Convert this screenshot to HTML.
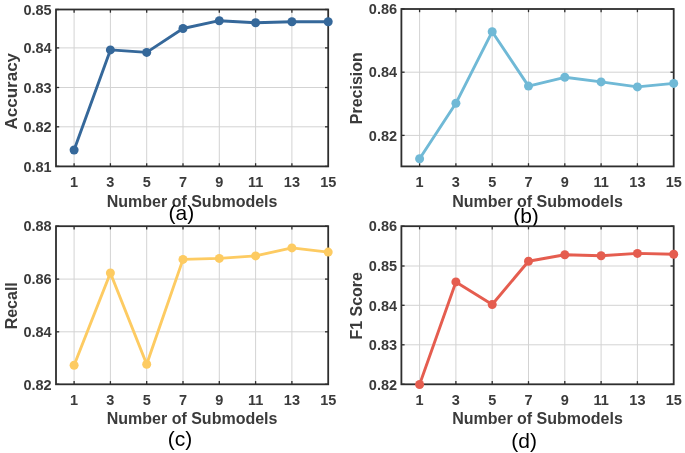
<!DOCTYPE html>
<html><head><meta charset="utf-8"><title>Submodels</title>
<style>
html,body{margin:0;padding:0;background:#fff;}
svg{display:block;}
text{font-family:"Liberation Sans",Arial,sans-serif;}
.tk{font-size:14.5px;font-weight:bold;fill:#3a3a3a;}
.lb{font-size:16px;font-weight:bold;fill:#3a3a3a;}
.cap{font-size:21px;fill:#000;}
</style></head><body>
<svg width="685" height="453" viewBox="0 0 685 453">
<defs><filter id="bl" x="-5%" y="-5%" width="110%" height="110%"><feGaussianBlur stdDeviation="0.7"/></filter></defs>
<rect width="685" height="453" fill="#fff"/>
<g filter="url(#bl)">
<g>
<line x1="74.1" y1="9.5" x2="74.1" y2="166.4" stroke="#d3d3d3" stroke-width="1.0"/>
<line x1="110.4" y1="9.5" x2="110.4" y2="166.4" stroke="#d3d3d3" stroke-width="1.0"/>
<line x1="146.7" y1="9.5" x2="146.7" y2="166.4" stroke="#d3d3d3" stroke-width="1.0"/>
<line x1="183.0" y1="9.5" x2="183.0" y2="166.4" stroke="#d3d3d3" stroke-width="1.0"/>
<line x1="219.3" y1="9.5" x2="219.3" y2="166.4" stroke="#d3d3d3" stroke-width="1.0"/>
<line x1="255.6" y1="9.5" x2="255.6" y2="166.4" stroke="#d3d3d3" stroke-width="1.0"/>
<line x1="291.9" y1="9.5" x2="291.9" y2="166.4" stroke="#d3d3d3" stroke-width="1.0"/>
<line x1="56.0" y1="47.9" x2="328.2" y2="47.9" stroke="#d3d3d3" stroke-width="1.0"/>
<line x1="56.0" y1="87.5" x2="328.2" y2="87.5" stroke="#d3d3d3" stroke-width="1.0"/>
<line x1="56.0" y1="126.8" x2="328.2" y2="126.8" stroke="#d3d3d3" stroke-width="1.0"/>
<line x1="74.1" y1="166.4" x2="74.1" y2="163.20000000000002" stroke="#2e2e2e" stroke-width="1.3"/>
<line x1="74.1" y1="9.5" x2="74.1" y2="12.7" stroke="#2e2e2e" stroke-width="1.3"/>
<line x1="110.4" y1="166.4" x2="110.4" y2="163.20000000000002" stroke="#2e2e2e" stroke-width="1.3"/>
<line x1="110.4" y1="9.5" x2="110.4" y2="12.7" stroke="#2e2e2e" stroke-width="1.3"/>
<line x1="146.7" y1="166.4" x2="146.7" y2="163.20000000000002" stroke="#2e2e2e" stroke-width="1.3"/>
<line x1="146.7" y1="9.5" x2="146.7" y2="12.7" stroke="#2e2e2e" stroke-width="1.3"/>
<line x1="183.0" y1="166.4" x2="183.0" y2="163.20000000000002" stroke="#2e2e2e" stroke-width="1.3"/>
<line x1="183.0" y1="9.5" x2="183.0" y2="12.7" stroke="#2e2e2e" stroke-width="1.3"/>
<line x1="219.3" y1="166.4" x2="219.3" y2="163.20000000000002" stroke="#2e2e2e" stroke-width="1.3"/>
<line x1="219.3" y1="9.5" x2="219.3" y2="12.7" stroke="#2e2e2e" stroke-width="1.3"/>
<line x1="255.6" y1="166.4" x2="255.6" y2="163.20000000000002" stroke="#2e2e2e" stroke-width="1.3"/>
<line x1="255.6" y1="9.5" x2="255.6" y2="12.7" stroke="#2e2e2e" stroke-width="1.3"/>
<line x1="291.9" y1="166.4" x2="291.9" y2="163.20000000000002" stroke="#2e2e2e" stroke-width="1.3"/>
<line x1="291.9" y1="9.5" x2="291.9" y2="12.7" stroke="#2e2e2e" stroke-width="1.3"/>
<line x1="56.0" y1="9.5" x2="59.2" y2="9.5" stroke="#2e2e2e" stroke-width="1.3"/>
<line x1="328.2" y1="9.5" x2="325.0" y2="9.5" stroke="#2e2e2e" stroke-width="1.3"/>
<line x1="56.0" y1="47.9" x2="59.2" y2="47.9" stroke="#2e2e2e" stroke-width="1.3"/>
<line x1="328.2" y1="47.9" x2="325.0" y2="47.9" stroke="#2e2e2e" stroke-width="1.3"/>
<line x1="56.0" y1="87.5" x2="59.2" y2="87.5" stroke="#2e2e2e" stroke-width="1.3"/>
<line x1="328.2" y1="87.5" x2="325.0" y2="87.5" stroke="#2e2e2e" stroke-width="1.3"/>
<line x1="56.0" y1="126.8" x2="59.2" y2="126.8" stroke="#2e2e2e" stroke-width="1.3"/>
<line x1="328.2" y1="126.8" x2="325.0" y2="126.8" stroke="#2e2e2e" stroke-width="1.3"/>
<line x1="56.0" y1="166.4" x2="59.2" y2="166.4" stroke="#2e2e2e" stroke-width="1.3"/>
<line x1="328.2" y1="166.4" x2="325.0" y2="166.4" stroke="#2e2e2e" stroke-width="1.3"/>
<rect x="56.0" y="9.5" width="272.2" height="156.9" fill="none" stroke="#2e2e2e" stroke-width="1.8"/>
<polyline points="74.1,150.0 110.4,49.9 146.7,52.4 183.0,28.5 219.3,20.7 255.6,22.7 291.9,21.7 328.2,21.7" fill="none" stroke="#35679a" stroke-width="2.9" stroke-linejoin="round" stroke-linecap="round"/>
<circle cx="74.1" cy="150.0" r="4.5" fill="#35679a"/>
<circle cx="110.4" cy="49.9" r="4.5" fill="#35679a"/>
<circle cx="146.7" cy="52.4" r="4.5" fill="#35679a"/>
<circle cx="183.0" cy="28.5" r="4.5" fill="#35679a"/>
<circle cx="219.3" cy="20.7" r="4.5" fill="#35679a"/>
<circle cx="255.6" cy="22.7" r="4.5" fill="#35679a"/>
<circle cx="291.9" cy="21.7" r="4.5" fill="#35679a"/>
<circle cx="328.2" cy="21.7" r="4.5" fill="#35679a"/>
<text class="tk" x="74.1" y="187.0" text-anchor="middle">1</text>
<text class="tk" x="110.4" y="187.0" text-anchor="middle">3</text>
<text class="tk" x="146.7" y="187.0" text-anchor="middle">5</text>
<text class="tk" x="183.0" y="187.0" text-anchor="middle">7</text>
<text class="tk" x="219.3" y="187.0" text-anchor="middle">9</text>
<text class="tk" x="255.6" y="187.0" text-anchor="middle">11</text>
<text class="tk" x="291.9" y="187.0" text-anchor="middle">13</text>
<text class="tk" x="328.2" y="187.0" text-anchor="middle">15</text>
<text class="tk" x="51.7" y="14.7" text-anchor="end">0.85</text>
<text class="tk" x="51.7" y="53.1" text-anchor="end">0.84</text>
<text class="tk" x="51.7" y="92.7" text-anchor="end">0.83</text>
<text class="tk" x="51.7" y="132.0" text-anchor="end">0.82</text>
<text class="tk" x="51.7" y="171.6" text-anchor="end">0.81</text>
<text class="lb" x="192.1" y="207.0" text-anchor="middle">Number of Submodels</text>
<text class="lb" style="font-size:17px" transform="translate(16.5,91.2) rotate(-90)" text-anchor="middle">Accuracy</text>
<text class="cap" x="181.4" y="219.8" text-anchor="middle">(a)</text>
</g>
<g>
<line x1="419.6" y1="9.0" x2="419.6" y2="166.4" stroke="#d3d3d3" stroke-width="1.0"/>
<line x1="455.9" y1="9.0" x2="455.9" y2="166.4" stroke="#d3d3d3" stroke-width="1.0"/>
<line x1="492.2" y1="9.0" x2="492.2" y2="166.4" stroke="#d3d3d3" stroke-width="1.0"/>
<line x1="528.5" y1="9.0" x2="528.5" y2="166.4" stroke="#d3d3d3" stroke-width="1.0"/>
<line x1="564.8" y1="9.0" x2="564.8" y2="166.4" stroke="#d3d3d3" stroke-width="1.0"/>
<line x1="601.1" y1="9.0" x2="601.1" y2="166.4" stroke="#d3d3d3" stroke-width="1.0"/>
<line x1="637.4" y1="9.0" x2="637.4" y2="166.4" stroke="#d3d3d3" stroke-width="1.0"/>
<line x1="401.4" y1="72.2" x2="673.7" y2="72.2" stroke="#d3d3d3" stroke-width="1.0"/>
<line x1="401.4" y1="135.4" x2="673.7" y2="135.4" stroke="#d3d3d3" stroke-width="1.0"/>
<line x1="419.6" y1="166.4" x2="419.6" y2="163.20000000000002" stroke="#2e2e2e" stroke-width="1.3"/>
<line x1="419.6" y1="9.0" x2="419.6" y2="12.2" stroke="#2e2e2e" stroke-width="1.3"/>
<line x1="455.9" y1="166.4" x2="455.9" y2="163.20000000000002" stroke="#2e2e2e" stroke-width="1.3"/>
<line x1="455.9" y1="9.0" x2="455.9" y2="12.2" stroke="#2e2e2e" stroke-width="1.3"/>
<line x1="492.2" y1="166.4" x2="492.2" y2="163.20000000000002" stroke="#2e2e2e" stroke-width="1.3"/>
<line x1="492.2" y1="9.0" x2="492.2" y2="12.2" stroke="#2e2e2e" stroke-width="1.3"/>
<line x1="528.5" y1="166.4" x2="528.5" y2="163.20000000000002" stroke="#2e2e2e" stroke-width="1.3"/>
<line x1="528.5" y1="9.0" x2="528.5" y2="12.2" stroke="#2e2e2e" stroke-width="1.3"/>
<line x1="564.8" y1="166.4" x2="564.8" y2="163.20000000000002" stroke="#2e2e2e" stroke-width="1.3"/>
<line x1="564.8" y1="9.0" x2="564.8" y2="12.2" stroke="#2e2e2e" stroke-width="1.3"/>
<line x1="601.1" y1="166.4" x2="601.1" y2="163.20000000000002" stroke="#2e2e2e" stroke-width="1.3"/>
<line x1="601.1" y1="9.0" x2="601.1" y2="12.2" stroke="#2e2e2e" stroke-width="1.3"/>
<line x1="637.4" y1="166.4" x2="637.4" y2="163.20000000000002" stroke="#2e2e2e" stroke-width="1.3"/>
<line x1="637.4" y1="9.0" x2="637.4" y2="12.2" stroke="#2e2e2e" stroke-width="1.3"/>
<line x1="401.4" y1="9.0" x2="404.59999999999997" y2="9.0" stroke="#2e2e2e" stroke-width="1.3"/>
<line x1="673.7" y1="9.0" x2="670.5" y2="9.0" stroke="#2e2e2e" stroke-width="1.3"/>
<line x1="401.4" y1="72.2" x2="404.59999999999997" y2="72.2" stroke="#2e2e2e" stroke-width="1.3"/>
<line x1="673.7" y1="72.2" x2="670.5" y2="72.2" stroke="#2e2e2e" stroke-width="1.3"/>
<line x1="401.4" y1="135.4" x2="404.59999999999997" y2="135.4" stroke="#2e2e2e" stroke-width="1.3"/>
<line x1="673.7" y1="135.4" x2="670.5" y2="135.4" stroke="#2e2e2e" stroke-width="1.3"/>
<rect x="401.4" y="9.0" width="272.3" height="157.4" fill="none" stroke="#2e2e2e" stroke-width="1.8"/>
<polyline points="419.6,158.8 455.9,103.3 492.2,31.7 528.5,86.1 564.8,77.3 601.1,81.9 637.4,86.9 673.7,83.4" fill="none" stroke="#6fb9d6" stroke-width="2.9" stroke-linejoin="round" stroke-linecap="round"/>
<circle cx="419.6" cy="158.8" r="4.5" fill="#6fb9d6"/>
<circle cx="455.9" cy="103.3" r="4.5" fill="#6fb9d6"/>
<circle cx="492.2" cy="31.7" r="4.5" fill="#6fb9d6"/>
<circle cx="528.5" cy="86.1" r="4.5" fill="#6fb9d6"/>
<circle cx="564.8" cy="77.3" r="4.5" fill="#6fb9d6"/>
<circle cx="601.1" cy="81.9" r="4.5" fill="#6fb9d6"/>
<circle cx="637.4" cy="86.9" r="4.5" fill="#6fb9d6"/>
<circle cx="673.7" cy="83.4" r="4.5" fill="#6fb9d6"/>
<text class="tk" x="419.6" y="187.0" text-anchor="middle">1</text>
<text class="tk" x="455.9" y="187.0" text-anchor="middle">3</text>
<text class="tk" x="492.2" y="187.0" text-anchor="middle">5</text>
<text class="tk" x="528.5" y="187.0" text-anchor="middle">7</text>
<text class="tk" x="564.8" y="187.0" text-anchor="middle">9</text>
<text class="tk" x="601.1" y="187.0" text-anchor="middle">11</text>
<text class="tk" x="637.4" y="187.0" text-anchor="middle">13</text>
<text class="tk" x="673.7" y="187.0" text-anchor="middle">15</text>
<text class="tk" x="397.09999999999997" y="14.2" text-anchor="end">0.86</text>
<text class="tk" x="397.09999999999997" y="77.4" text-anchor="end">0.84</text>
<text class="tk" x="397.09999999999997" y="140.6" text-anchor="end">0.82</text>
<text class="lb" x="537.5" y="207.0" text-anchor="middle">Number of Submodels</text>
<text class="lb" style="font-size:16px" transform="translate(361.9,88.2) rotate(-90)" text-anchor="middle">Precision</text>
<text class="cap" x="526" y="223.0" text-anchor="middle">(b)</text>
</g>
<g>
<line x1="74.1" y1="226.2" x2="74.1" y2="384.3" stroke="#d3d3d3" stroke-width="1.0"/>
<line x1="110.4" y1="226.2" x2="110.4" y2="384.3" stroke="#d3d3d3" stroke-width="1.0"/>
<line x1="146.7" y1="226.2" x2="146.7" y2="384.3" stroke="#d3d3d3" stroke-width="1.0"/>
<line x1="183.0" y1="226.2" x2="183.0" y2="384.3" stroke="#d3d3d3" stroke-width="1.0"/>
<line x1="219.3" y1="226.2" x2="219.3" y2="384.3" stroke="#d3d3d3" stroke-width="1.0"/>
<line x1="255.6" y1="226.2" x2="255.6" y2="384.3" stroke="#d3d3d3" stroke-width="1.0"/>
<line x1="291.9" y1="226.2" x2="291.9" y2="384.3" stroke="#d3d3d3" stroke-width="1.0"/>
<line x1="56.0" y1="279.1" x2="328.2" y2="279.1" stroke="#d3d3d3" stroke-width="1.0"/>
<line x1="56.0" y1="331.8" x2="328.2" y2="331.8" stroke="#d3d3d3" stroke-width="1.0"/>
<line x1="74.1" y1="384.3" x2="74.1" y2="381.1" stroke="#2e2e2e" stroke-width="1.3"/>
<line x1="74.1" y1="226.2" x2="74.1" y2="229.39999999999998" stroke="#2e2e2e" stroke-width="1.3"/>
<line x1="110.4" y1="384.3" x2="110.4" y2="381.1" stroke="#2e2e2e" stroke-width="1.3"/>
<line x1="110.4" y1="226.2" x2="110.4" y2="229.39999999999998" stroke="#2e2e2e" stroke-width="1.3"/>
<line x1="146.7" y1="384.3" x2="146.7" y2="381.1" stroke="#2e2e2e" stroke-width="1.3"/>
<line x1="146.7" y1="226.2" x2="146.7" y2="229.39999999999998" stroke="#2e2e2e" stroke-width="1.3"/>
<line x1="183.0" y1="384.3" x2="183.0" y2="381.1" stroke="#2e2e2e" stroke-width="1.3"/>
<line x1="183.0" y1="226.2" x2="183.0" y2="229.39999999999998" stroke="#2e2e2e" stroke-width="1.3"/>
<line x1="219.3" y1="384.3" x2="219.3" y2="381.1" stroke="#2e2e2e" stroke-width="1.3"/>
<line x1="219.3" y1="226.2" x2="219.3" y2="229.39999999999998" stroke="#2e2e2e" stroke-width="1.3"/>
<line x1="255.6" y1="384.3" x2="255.6" y2="381.1" stroke="#2e2e2e" stroke-width="1.3"/>
<line x1="255.6" y1="226.2" x2="255.6" y2="229.39999999999998" stroke="#2e2e2e" stroke-width="1.3"/>
<line x1="291.9" y1="384.3" x2="291.9" y2="381.1" stroke="#2e2e2e" stroke-width="1.3"/>
<line x1="291.9" y1="226.2" x2="291.9" y2="229.39999999999998" stroke="#2e2e2e" stroke-width="1.3"/>
<line x1="56.0" y1="226.2" x2="59.2" y2="226.2" stroke="#2e2e2e" stroke-width="1.3"/>
<line x1="328.2" y1="226.2" x2="325.0" y2="226.2" stroke="#2e2e2e" stroke-width="1.3"/>
<line x1="56.0" y1="279.1" x2="59.2" y2="279.1" stroke="#2e2e2e" stroke-width="1.3"/>
<line x1="328.2" y1="279.1" x2="325.0" y2="279.1" stroke="#2e2e2e" stroke-width="1.3"/>
<line x1="56.0" y1="331.8" x2="59.2" y2="331.8" stroke="#2e2e2e" stroke-width="1.3"/>
<line x1="328.2" y1="331.8" x2="325.0" y2="331.8" stroke="#2e2e2e" stroke-width="1.3"/>
<line x1="56.0" y1="384.3" x2="59.2" y2="384.3" stroke="#2e2e2e" stroke-width="1.3"/>
<line x1="328.2" y1="384.3" x2="325.0" y2="384.3" stroke="#2e2e2e" stroke-width="1.3"/>
<rect x="56.0" y="226.2" width="272.2" height="158.1" fill="none" stroke="#2e2e2e" stroke-width="1.8"/>
<polyline points="74.1,365.2 110.4,273.0 146.7,364.2 183.0,259.4 219.3,258.4 255.6,255.9 291.9,247.9 328.2,252.1" fill="none" stroke="#fdcb62" stroke-width="2.9" stroke-linejoin="round" stroke-linecap="round"/>
<circle cx="74.1" cy="365.2" r="4.5" fill="#fdcb62"/>
<circle cx="110.4" cy="273.0" r="4.5" fill="#fdcb62"/>
<circle cx="146.7" cy="364.2" r="4.5" fill="#fdcb62"/>
<circle cx="183.0" cy="259.4" r="4.5" fill="#fdcb62"/>
<circle cx="219.3" cy="258.4" r="4.5" fill="#fdcb62"/>
<circle cx="255.6" cy="255.9" r="4.5" fill="#fdcb62"/>
<circle cx="291.9" cy="247.9" r="4.5" fill="#fdcb62"/>
<circle cx="328.2" cy="252.1" r="4.5" fill="#fdcb62"/>
<text class="tk" x="74.1" y="404.5" text-anchor="middle">1</text>
<text class="tk" x="110.4" y="404.5" text-anchor="middle">3</text>
<text class="tk" x="146.7" y="404.5" text-anchor="middle">5</text>
<text class="tk" x="183.0" y="404.5" text-anchor="middle">7</text>
<text class="tk" x="219.3" y="404.5" text-anchor="middle">9</text>
<text class="tk" x="255.6" y="404.5" text-anchor="middle">11</text>
<text class="tk" x="291.9" y="404.5" text-anchor="middle">13</text>
<text class="tk" x="328.2" y="404.5" text-anchor="middle">15</text>
<text class="tk" x="51.7" y="231.39999999999998" text-anchor="end">0.88</text>
<text class="tk" x="51.7" y="284.3" text-anchor="end">0.86</text>
<text class="tk" x="51.7" y="337.0" text-anchor="end">0.84</text>
<text class="tk" x="51.7" y="389.5" text-anchor="end">0.82</text>
<text class="lb" x="192.1" y="424.4" text-anchor="middle">Number of Submodels</text>
<text class="lb" style="font-size:16px" transform="translate(16.5,305.8) rotate(-90)" text-anchor="middle">Recall</text>
<text class="cap" x="180" y="445.9" text-anchor="middle">(c)</text>
</g>
<g>
<line x1="419.6" y1="226.2" x2="419.6" y2="384.3" stroke="#d3d3d3" stroke-width="1.0"/>
<line x1="455.9" y1="226.2" x2="455.9" y2="384.3" stroke="#d3d3d3" stroke-width="1.0"/>
<line x1="492.2" y1="226.2" x2="492.2" y2="384.3" stroke="#d3d3d3" stroke-width="1.0"/>
<line x1="528.5" y1="226.2" x2="528.5" y2="384.3" stroke="#d3d3d3" stroke-width="1.0"/>
<line x1="564.8" y1="226.2" x2="564.8" y2="384.3" stroke="#d3d3d3" stroke-width="1.0"/>
<line x1="601.1" y1="226.2" x2="601.1" y2="384.3" stroke="#d3d3d3" stroke-width="1.0"/>
<line x1="637.4" y1="226.2" x2="637.4" y2="384.3" stroke="#d3d3d3" stroke-width="1.0"/>
<line x1="401.4" y1="266.0" x2="673.7" y2="266.0" stroke="#d3d3d3" stroke-width="1.0"/>
<line x1="401.4" y1="305.3" x2="673.7" y2="305.3" stroke="#d3d3d3" stroke-width="1.0"/>
<line x1="401.4" y1="344.8" x2="673.7" y2="344.8" stroke="#d3d3d3" stroke-width="1.0"/>
<line x1="419.6" y1="384.3" x2="419.6" y2="381.1" stroke="#2e2e2e" stroke-width="1.3"/>
<line x1="419.6" y1="226.2" x2="419.6" y2="229.39999999999998" stroke="#2e2e2e" stroke-width="1.3"/>
<line x1="455.9" y1="384.3" x2="455.9" y2="381.1" stroke="#2e2e2e" stroke-width="1.3"/>
<line x1="455.9" y1="226.2" x2="455.9" y2="229.39999999999998" stroke="#2e2e2e" stroke-width="1.3"/>
<line x1="492.2" y1="384.3" x2="492.2" y2="381.1" stroke="#2e2e2e" stroke-width="1.3"/>
<line x1="492.2" y1="226.2" x2="492.2" y2="229.39999999999998" stroke="#2e2e2e" stroke-width="1.3"/>
<line x1="528.5" y1="384.3" x2="528.5" y2="381.1" stroke="#2e2e2e" stroke-width="1.3"/>
<line x1="528.5" y1="226.2" x2="528.5" y2="229.39999999999998" stroke="#2e2e2e" stroke-width="1.3"/>
<line x1="564.8" y1="384.3" x2="564.8" y2="381.1" stroke="#2e2e2e" stroke-width="1.3"/>
<line x1="564.8" y1="226.2" x2="564.8" y2="229.39999999999998" stroke="#2e2e2e" stroke-width="1.3"/>
<line x1="601.1" y1="384.3" x2="601.1" y2="381.1" stroke="#2e2e2e" stroke-width="1.3"/>
<line x1="601.1" y1="226.2" x2="601.1" y2="229.39999999999998" stroke="#2e2e2e" stroke-width="1.3"/>
<line x1="637.4" y1="384.3" x2="637.4" y2="381.1" stroke="#2e2e2e" stroke-width="1.3"/>
<line x1="637.4" y1="226.2" x2="637.4" y2="229.39999999999998" stroke="#2e2e2e" stroke-width="1.3"/>
<line x1="401.4" y1="226.2" x2="404.59999999999997" y2="226.2" stroke="#2e2e2e" stroke-width="1.3"/>
<line x1="673.7" y1="226.2" x2="670.5" y2="226.2" stroke="#2e2e2e" stroke-width="1.3"/>
<line x1="401.4" y1="266.0" x2="404.59999999999997" y2="266.0" stroke="#2e2e2e" stroke-width="1.3"/>
<line x1="673.7" y1="266.0" x2="670.5" y2="266.0" stroke="#2e2e2e" stroke-width="1.3"/>
<line x1="401.4" y1="305.3" x2="404.59999999999997" y2="305.3" stroke="#2e2e2e" stroke-width="1.3"/>
<line x1="673.7" y1="305.3" x2="670.5" y2="305.3" stroke="#2e2e2e" stroke-width="1.3"/>
<line x1="401.4" y1="344.8" x2="404.59999999999997" y2="344.8" stroke="#2e2e2e" stroke-width="1.3"/>
<line x1="673.7" y1="344.8" x2="670.5" y2="344.8" stroke="#2e2e2e" stroke-width="1.3"/>
<line x1="401.4" y1="384.3" x2="404.59999999999997" y2="384.3" stroke="#2e2e2e" stroke-width="1.3"/>
<line x1="673.7" y1="384.3" x2="670.5" y2="384.3" stroke="#2e2e2e" stroke-width="1.3"/>
<rect x="401.4" y="226.2" width="272.3" height="158.1" fill="none" stroke="#2e2e2e" stroke-width="1.8"/>
<polyline points="419.6,384.5 455.9,281.9 492.2,304.5 528.5,261.2 564.8,254.7 601.1,255.7 637.4,253.4 673.7,254.2" fill="none" stroke="#e55d50" stroke-width="2.9" stroke-linejoin="round" stroke-linecap="round"/>
<circle cx="419.6" cy="384.5" r="4.5" fill="#e55d50"/>
<circle cx="455.9" cy="281.9" r="4.5" fill="#e55d50"/>
<circle cx="492.2" cy="304.5" r="4.5" fill="#e55d50"/>
<circle cx="528.5" cy="261.2" r="4.5" fill="#e55d50"/>
<circle cx="564.8" cy="254.7" r="4.5" fill="#e55d50"/>
<circle cx="601.1" cy="255.7" r="4.5" fill="#e55d50"/>
<circle cx="637.4" cy="253.4" r="4.5" fill="#e55d50"/>
<circle cx="673.7" cy="254.2" r="4.5" fill="#e55d50"/>
<text class="tk" x="419.6" y="404.5" text-anchor="middle">1</text>
<text class="tk" x="455.9" y="404.5" text-anchor="middle">3</text>
<text class="tk" x="492.2" y="404.5" text-anchor="middle">5</text>
<text class="tk" x="528.5" y="404.5" text-anchor="middle">7</text>
<text class="tk" x="564.8" y="404.5" text-anchor="middle">9</text>
<text class="tk" x="601.1" y="404.5" text-anchor="middle">11</text>
<text class="tk" x="637.4" y="404.5" text-anchor="middle">13</text>
<text class="tk" x="673.7" y="404.5" text-anchor="middle">15</text>
<text class="tk" x="397.09999999999997" y="231.39999999999998" text-anchor="end">0.86</text>
<text class="tk" x="397.09999999999997" y="271.2" text-anchor="end">0.85</text>
<text class="tk" x="397.09999999999997" y="310.5" text-anchor="end">0.84</text>
<text class="tk" x="397.09999999999997" y="350.0" text-anchor="end">0.83</text>
<text class="tk" x="397.09999999999997" y="389.5" text-anchor="end">0.82</text>
<text class="lb" x="537.5" y="424.4" text-anchor="middle">Number of Submodels</text>
<text class="lb" style="font-size:16px" transform="translate(361.9,305.8) rotate(-90)" text-anchor="middle">F1 Score</text>
<text class="cap" x="524.2" y="448.2" text-anchor="middle">(d)</text>
</g>
</g></svg></body></html>
